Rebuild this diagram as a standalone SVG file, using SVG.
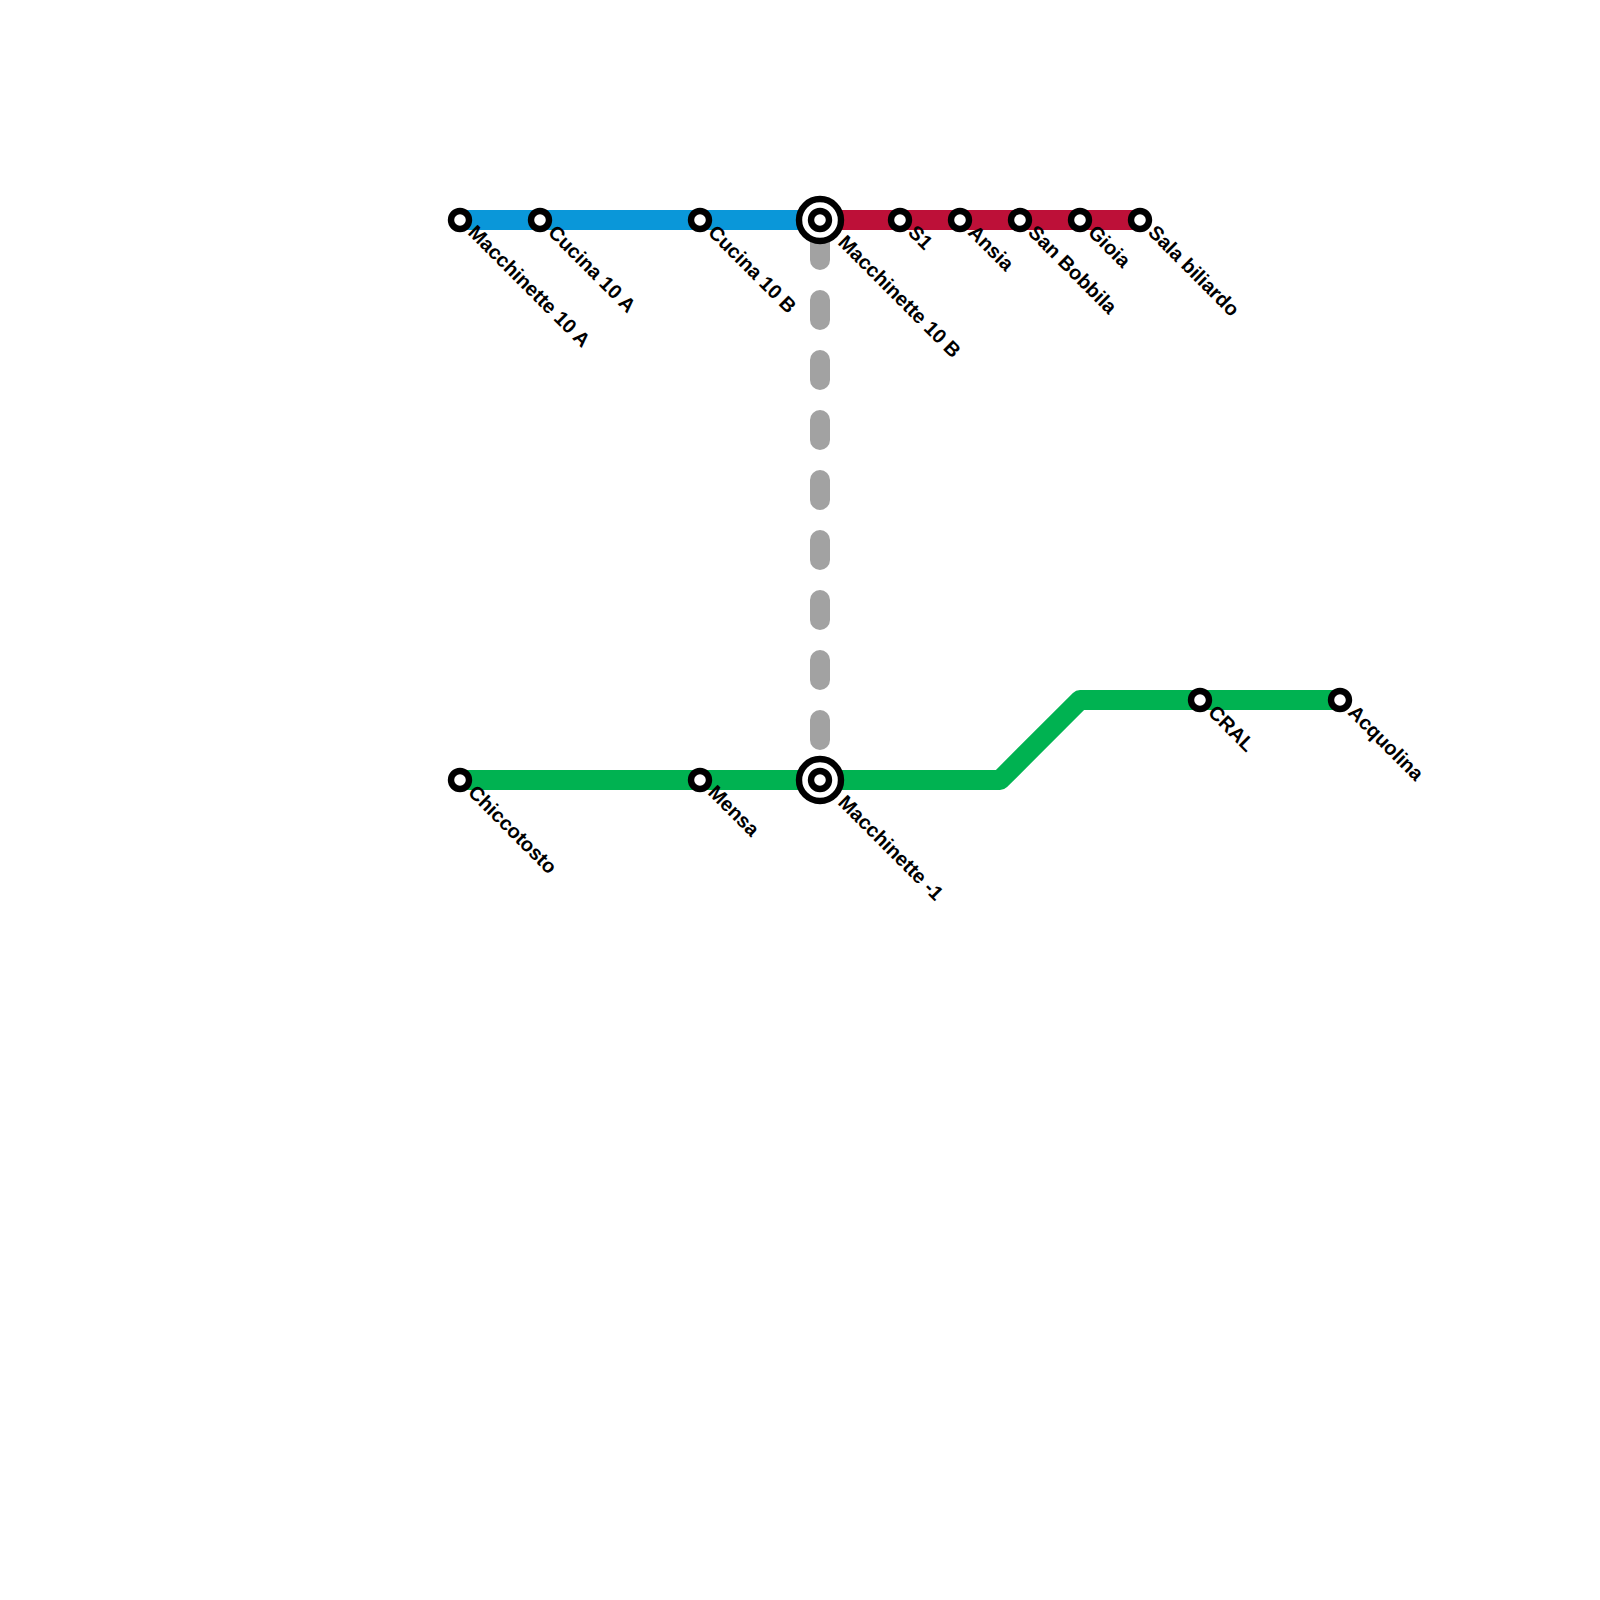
<svg xmlns="http://www.w3.org/2000/svg" width="1600" height="1600" viewBox="0 0 1600 1600">
<style>
.line{fill:none;stroke-width:20}
.st{fill:#fff;stroke:#000;stroke-width:6.4}
.hub{fill:#fff;stroke:#000;stroke-width:6.4}
text{font-family:"Liberation Sans",Arial,sans-serif;font-size:20px;font-weight:700;fill:#000}
</style>
<rect width="1600" height="1600" fill="#fff"/>
<g id="connectors">
<path class="line" stroke="#a2a2a2" stroke-linecap="round" stroke-dasharray="20 40" d="M820 240V740"/>
<path class="line" stroke="#0a97d9" d="M460 220H820"/>
<path class="line" stroke="#bd1038" d="M820 220H1140"/>
<path class="line" stroke="#00b251" stroke-linejoin="round" d="M460 780H1000L1080 700H1340"/>
</g>
<g id="n1"><circle class="st" cx="460" cy="220" r="9"/><text transform="translate(467 233.5) rotate(45)">Macchinette 10 A</text></g>
<g id="n2"><circle class="st" cx="540" cy="220" r="9"/><text transform="translate(547 233.5) rotate(45)">Cucina 10 A</text></g>
<g id="n3"><circle class="st" cx="700" cy="220" r="9"/><text transform="translate(707 233.5) rotate(45)">Cucina 10 B</text></g>
<g id="n4"><circle class="hub" cx="820" cy="220" r="21"/><circle class="hub" cx="820" cy="220" r="9"/><text transform="translate(837 243.5) rotate(45)">Macchinette 10 B</text></g>
<g id="n5"><circle class="st" cx="900" cy="220" r="9"/><text transform="translate(907 233.5) rotate(45)">S1</text></g>
<g id="n6"><circle class="st" cx="960" cy="220" r="9"/><text transform="translate(967 233.5) rotate(45)">Ansia</text></g>
<g id="n7"><circle class="st" cx="1020" cy="220" r="9"/><text transform="translate(1027 233.5) rotate(45)">San Bobbila</text></g>
<g id="n8"><circle class="st" cx="1080" cy="220" r="9"/><text transform="translate(1087 233.5) rotate(45)">Gioia</text></g>
<g id="n9"><circle class="st" cx="1140" cy="220" r="9"/><text transform="translate(1147 233.5) rotate(45)">Sala biliardo</text></g>
<g id="n10"><circle class="st" cx="1200" cy="700" r="9"/><text transform="translate(1207 713.5) rotate(45)">CRAL</text></g>
<g id="n11"><circle class="st" cx="1340" cy="700" r="9"/><text transform="translate(1347 713.5) rotate(45)">Acquolina</text></g>
<g id="n12"><circle class="st" cx="460" cy="780" r="9"/><text transform="translate(467 793.5) rotate(45)">Chiccotosto</text></g>
<g id="n13"><circle class="st" cx="700" cy="780" r="9"/><text transform="translate(707 793.5) rotate(45)">Mensa</text></g>
<g id="n14"><circle class="hub" cx="820" cy="780" r="21"/><circle class="hub" cx="820" cy="780" r="9"/><text transform="translate(837 803.5) rotate(45)">Macchinette -1</text></g>
</svg>
